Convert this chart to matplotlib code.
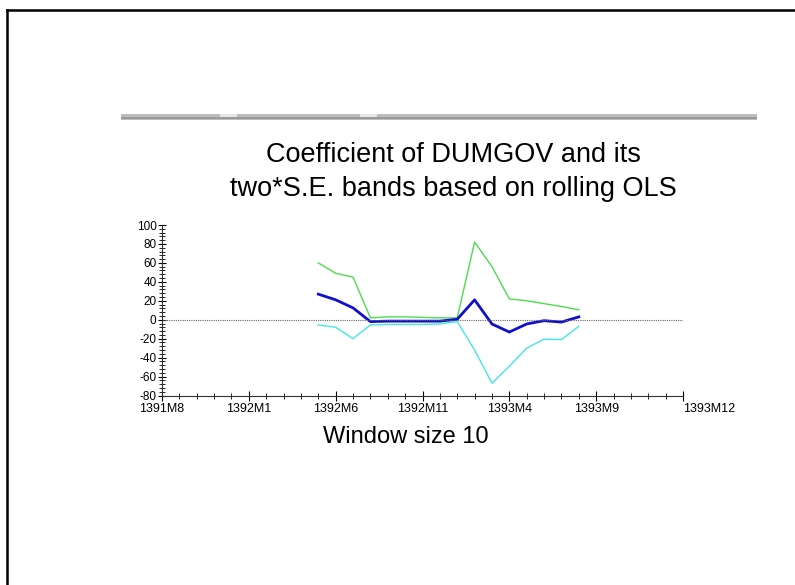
import numpy as np
import matplotlib
matplotlib.use("Agg")
import matplotlib.pyplot as plt
from matplotlib.lines import Line2D
from matplotlib.patches import Rectangle
from matplotlib.transforms import ScaledTranslation

plt.rcParams['font.family'] = ['Liberation Sans', 'DejaVu Sans']

# months counted from 1391M8 (= 0)
months = list(range(9, 25))
coef = [27, 21, 12.5, -2, -1.5, -1.5, -1.5, -1.5, 0.5, 21, -4.5, -13, -4.5, -1, -2.5, 3]
upper = [60, 49, 45, 2, 3, 3, 2.5, 2, 2, 82, 56, 22, 20, 17, 14, 10.5]
lower = [-5.5, -8, -20, -5.5, -5, -5, -5, -4.5, -2, -32, -67, -49, -30, -20.5, -21, -7]

tick_pos = [0, 5, 10, 15, 20, 25, 30]
tick_labels = ['1391M8', '1392M1', '1392M6', '1392M11', '1393M4', '1393M9', '1393M12']
ytick_vals = [100, 80, 60, 40, 20, 0, -20, -40, -60, -80]

W, H = 795, 585
fig = plt.figure(figsize=(W / 100, H / 100), dpi=100)

# frame lines of the screenshot (left and top)
fig.add_artist(Line2D([7 / W, 7 / W], [0, 1 - 10 / H], color='black', lw=1.8,
                      transform=fig.transFigure))
fig.add_artist(Line2D([7 / W, 1], [1 - 10 / H, 1 - 10 / H], color='black', lw=1.8,
                      transform=fig.transFigure))

# gray bar across the top
fig.add_artist(Rectangle((121 / W, 1 - 120 / H), (757 - 121) / W, 6 / H,
                         facecolor='#bdbdbd', edgecolor='none', transform=fig.transFigure))
fig.add_artist(Rectangle((121 / W, 1 - 119 / H), (757 - 121) / W, 2 / H,
                         facecolor='#9a9a9a', edgecolor='none', transform=fig.transFigure))
for x0 in (220, 360):
    fig.add_artist(Rectangle((x0 / W, 1 - 117 / H), 17 / W, 3 / H,
                             facecolor='#e6e6e6', edgecolor='none', transform=fig.transFigure))

ax = fig.add_axes([162 / W, 1 - 395.5 / H, (683 - 162) / W, (395.5 - 225) / H])

ax.plot(months, upper, color='#4ddc4d', lw=1.0)
ax.plot(months, lower, color='#45e6e6', lw=1.0)
ax.plot(months, coef, color='#1010cc', lw=2.0)
ax.axhline(0, color='#666666', lw=0.8, ls=(0, (1, 1)))

ax.set_xlim(0, 30)
ax.set_ylim(-80, 100)
ax.set_xticks(tick_pos)
ax.set_xticklabels(tick_labels, fontsize=9)
ax.set_xticks(np.arange(0, 31, 1), minor=True)
ax.set_yticks(ytick_vals)
ax.set_yticklabels([str(v) for v in ytick_vals], fontsize=8.5)
ax.set_yticks(np.arange(-80, 101, 4), minor=True)

last = ax.get_xticklabels()[-1]
last.set_horizontalalignment('left')
last.set_transform(last.get_transform() + ScaledTranslation(7 / 100, 0, fig.dpi_scale_trans))

ax.tick_params(axis='x', which='major', direction='inout', length=7, width=0.8, pad=2)
ax.tick_params(axis='x', which='minor', direction='inout', length=4, width=0.6)
ax.tick_params(axis='y', which='major', direction='inout', length=6, width=0.8, pad=1)
ax.tick_params(axis='y', which='minor', direction='inout', length=4, width=0.6)

for s in ('top', 'right'):
    ax.spines[s].set_visible(False)
for s in ('left', 'bottom'):
    ax.spines[s].set_linewidth(0.8)
    ax.spines[s].set_color('#333333')

fig.text(453 / W, 1 - 172 / H, 'Coefficient of DUMGOV and its\ntwo*S.E. bands based on rolling OLS',
         ha='center', va='center', fontsize=19.5, linespacing=1.38)
fig.text(406 / W, 1 - 437 / H, 'Window size 10', ha='center', va='center', fontsize=17)

fig.savefig('out.png', dpi=100)
